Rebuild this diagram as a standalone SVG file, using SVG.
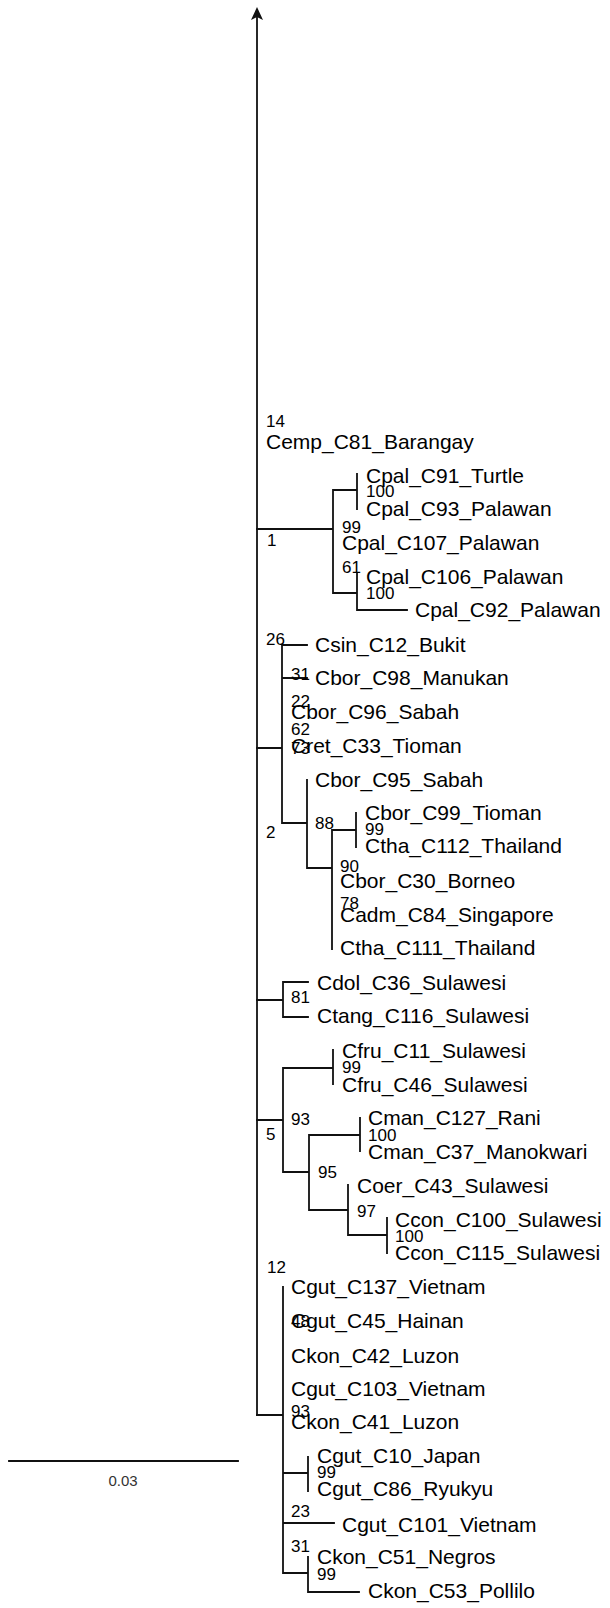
<svg xmlns="http://www.w3.org/2000/svg" width="610" height="1608" viewBox="0 0 610 1608">
<style>
.e{stroke:#111;stroke-width:1.8;fill:none;stroke-linecap:square}
.t{font-family:"Liberation Sans",Arial,sans-serif;font-size:21px;fill:#000}
.b{font-family:"Liberation Sans",Arial,sans-serif;font-size:17px;fill:#000}
.s{font-family:"Liberation Sans",Arial,sans-serif;font-size:15px;fill:#333}
</style>
<rect width="610" height="1608" fill="#fff"/>
<g id="connectors">
<path class="e" d="M257,16V1415"/>
<polygon points="257,7 263,20 257,17 251,20" fill="#111"/>
<!-- clade 1 -->
<path class="e" d="M257,529H333M333,490V593M333,490H357M357,474V509M333,593H357M357,573V610M357,610H407"/>
<!-- clade 2 -->
<path class="e" d="M257,748H282M282,645V823M282,645H307M282,678H307M282,823H307M307,780V868M307,868H332M332,830V949M332,830H356M356,813V847"/>
<!-- clade 81 -->
<path class="e" d="M257,1000H283M283,982V1017M283,982H308M283,1017H308"/>
<!-- clade 5 -->
<path class="e" d="M257,1120H283M283,1068V1172M283,1068H333M333,1050V1084M283,1172H309M309,1135V1210M309,1135H360M360,1118V1151M309,1210H348M348,1185V1235M348,1235H387M387,1218V1253"/>
<!-- clade 12 -->
<path class="e" d="M257,1415H283M283,1287V1573M283,1473H308M308,1457V1491M283,1523H334M283,1573H308M308,1557V1592M308,1592H359"/>
<!-- scale -->
<path class="e" d="M9,1461H238"/>
</g>
<g id="n_cemp"><text class="b" x="266" y="427">14</text><text class="t" x="266" y="449">Cemp_C81_Barangay</text></g>
<g id="n_c1"><text class="b" x="267" y="546">1</text></g>
<g id="n_cpal91"><text class="t" x="366" y="483">Cpal_C91_Turtle</text></g>
<g id="n_b100a"><text class="b" x="366" y="497">100</text></g>
<g id="n_cpal93"><text class="t" x="366" y="516">Cpal_C93_Palawan</text></g>
<g id="n_cpal107"><text class="b" x="342" y="533">99</text><text class="t" x="342" y="550">Cpal_C107_Palawan</text></g>
<g id="n_b61"><text class="b" x="342" y="573">61</text></g>
<g id="n_cpal106"><text class="t" x="366" y="584">Cpal_C106_Palawan</text></g>
<g id="n_b100b"><text class="b" x="366" y="599">100</text></g>
<g id="n_cpal92"><text class="t" x="415" y="617">Cpal_C92_Palawan</text></g>
<g id="n_csin"><text class="b" x="266" y="645">26</text><text class="t" x="315" y="652">Csin_C12_Bukit</text></g>
<g id="n_cbor98"><text class="b" x="291" y="680">31</text><text class="t" x="315" y="685">Cbor_C98_Manukan</text></g>
<g id="n_cbor96"><text class="b" x="291" y="707">22</text><text class="t" x="291" y="719">Cbor_C96_Sabah</text></g>
<g id="n_b62"><text class="b" x="291" y="735">62</text></g>
<g id="n_cret"><text class="b" x="291" y="754">73</text><text class="t" x="291" y="753">Cret_C33_Tioman</text></g>
<g id="n_cbor95"><text class="t" x="315" y="787">Cbor_C95_Sabah</text></g>
<g id="n_b88"><text class="b" x="315" y="829">88</text></g>
<g id="n_c2"><text class="b" x="266" y="838">2</text></g>
<g id="n_cbor99"><text class="t" x="365" y="820">Cbor_C99_Tioman</text></g>
<g id="n_b99a"><text class="b" x="365" y="835">99</text></g>
<g id="n_ctha112"><text class="t" x="365" y="853">Ctha_C112_Thailand</text></g>
<g id="n_cbor30"><text class="b" x="340" y="872">90</text><text class="t" x="340" y="888">Cbor_C30_Borneo</text></g>
<g id="n_cadm"><text class="b" x="340" y="909">78</text><text class="t" x="340" y="922">Cadm_C84_Singapore</text></g>
<g id="n_ctha111"><text class="t" x="340" y="955">Ctha_C111_Thailand</text></g>
<g id="n_cdol"><text class="t" x="317" y="990">Cdol_C36_Sulawesi</text></g>
<g id="n_b81"><text class="b" x="291" y="1003">81</text></g>
<g id="n_ctang"><text class="t" x="317" y="1023">Ctang_C116_Sulawesi</text></g>
<g id="n_cfru11"><text class="t" x="342" y="1058">Cfru_C11_Sulawesi</text></g>
<g id="n_b99b"><text class="b" x="342" y="1073">99</text></g>
<g id="n_cfru46"><text class="t" x="342" y="1092">Cfru_C46_Sulawesi</text></g>
<g id="n_b93"><text class="b" x="291" y="1125">93</text></g>
<g id="n_c5"><text class="b" x="266" y="1140">5</text></g>
<g id="n_cman127"><text class="t" x="368" y="1125">Cman_C127_Rani</text></g>
<g id="n_b100c"><text class="b" x="368" y="1141">100</text></g>
<g id="n_cman37"><text class="t" x="368" y="1159">Cman_C37_Manokwari</text></g>
<g id="n_b95"><text class="b" x="318" y="1178">95</text></g>
<g id="n_coer"><text class="t" x="357" y="1193">Coer_C43_Sulawesi</text></g>
<g id="n_b97"><text class="b" x="357" y="1217">97</text></g>
<g id="n_ccon100"><text class="t" x="395" y="1227">Ccon_C100_Sulawesi</text></g>
<g id="n_b100d"><text class="b" x="395" y="1242">100</text></g>
<g id="n_ccon115"><text class="t" x="395" y="1260">Ccon_C115_Sulawesi</text></g>
<g id="n_c12"><text class="b" x="267" y="1273">12</text></g>
<g id="n_cgut137"><text class="t" x="291" y="1294">Cgut_C137_Vietnam</text></g>
<g id="n_cgut45"><text class="b" x="291" y="1327">48</text><text class="t" x="291" y="1328">Cgut_C45_Hainan</text></g>
<g id="n_ckon42"><text class="t" x="291" y="1363">Ckon_C42_Luzon</text></g>
<g id="n_cgut103"><text class="t" x="291" y="1396">Cgut_C103_Vietnam</text></g>
<g id="n_ckon41"><text class="b" x="291" y="1417">93</text><text class="t" x="291" y="1429">Ckon_C41_Luzon</text></g>
<g id="n_cgut10"><text class="t" x="317" y="1463">Cgut_C10_Japan</text></g>
<g id="n_b99c"><text class="b" x="317" y="1478">99</text></g>
<g id="n_cgut86"><text class="t" x="317" y="1496">Cgut_C86_Ryukyu</text></g>
<g id="n_cgut101"><text class="b" x="291" y="1517">23</text><text class="t" x="342" y="1532">Cgut_C101_Vietnam</text></g>
<g id="n_b31"><text class="b" x="291" y="1552">31</text></g>
<g id="n_ckon51"><text class="t" x="317" y="1564">Ckon_C51_Negros</text></g>
<g id="n_b99d"><text class="b" x="317" y="1580">99</text></g>
<g id="n_ckon53"><text class="t" x="368" y="1598">Ckon_C53_Pollilo</text></g>
<g id="scale"><text class="s" x="123" y="1486" text-anchor="middle">0.03</text></g>
</svg>
